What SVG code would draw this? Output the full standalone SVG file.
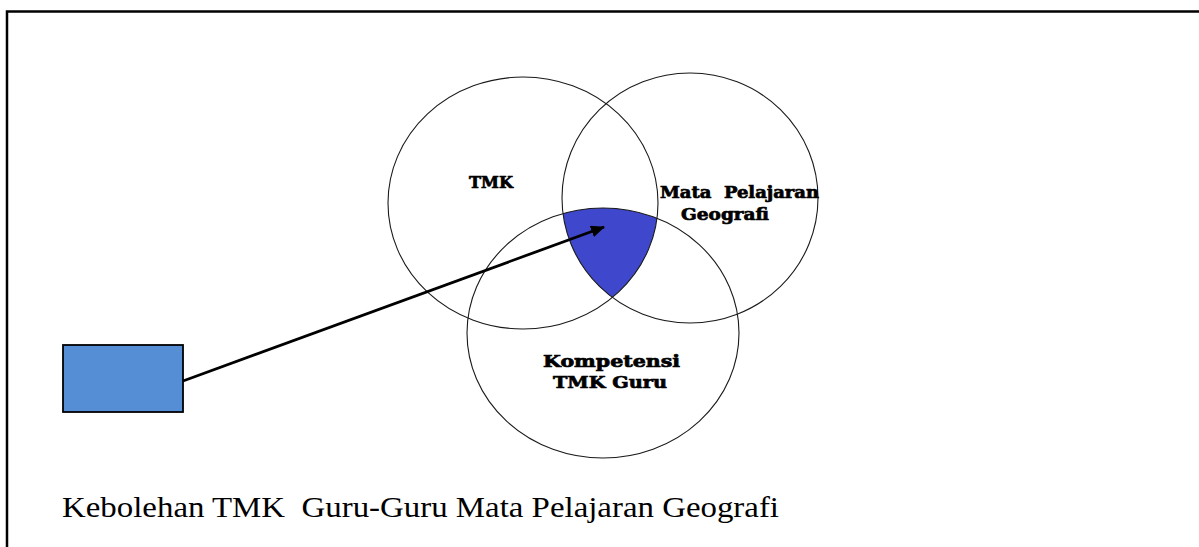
<svg xmlns="http://www.w3.org/2000/svg" width="1199" height="547" viewBox="0 0 1199 547">
<style>
.c{fill:none;stroke:#1a1a1a;stroke-width:1.1}
.lbl{font-family:"DejaVu Serif","Liberation Serif",serif;font-weight:bold;fill:#000;stroke:#000;stroke-width:0.7}
.cap{font-family:"Liberation Serif","Times New Roman",serif;font-size:29px;fill:#000}
</style>
<defs>
<clipPath id="clipT"><ellipse cx="523" cy="203" rx="135" ry="126"/></clipPath>
<clipPath id="clipG"><ellipse cx="690" cy="198" rx="128" ry="125"/></clipPath>
<marker id="ah" markerWidth="14" markerHeight="12" refX="13" refY="6" orient="auto" markerUnits="userSpaceOnUse" viewBox="0 0 14 12">
<path d="M0,0 L14,6 L0,12 z" fill="#000"/>
</marker>
</defs>
<rect width="1199" height="547" fill="#fff"/>
<path d="M7,547 V11.5 H1199" fill="none" stroke="#000" stroke-width="2.5"/>
<g id="overlap" clip-path="url(#clipG)"><g clip-path="url(#clipT)"><ellipse cx="603" cy="333" rx="136" ry="125" fill="#3F48CC"/></g></g>
<g id="tmk"><ellipse class="c" cx="523" cy="203" rx="135" ry="126"/><text class="lbl" x="469" y="188" font-size="16" textLength="44" lengthAdjust="spacingAndGlyphs">TMK</text></g>
<g id="geografi"><ellipse class="c" cx="690" cy="198" rx="128" ry="125"/><text class="lbl" x="660" y="198" font-size="17" textLength="159" lengthAdjust="spacingAndGlyphs" xml:space="preserve">Mata  Pelajaran</text><text class="lbl" x="681" y="220" font-size="17" textLength="88" lengthAdjust="spacingAndGlyphs">Geografi</text></g>
<g id="kompetensi"><ellipse class="c" cx="603" cy="333" rx="136" ry="125"/><text class="lbl" x="543" y="367" font-size="17" textLength="137" lengthAdjust="spacingAndGlyphs">Kompetensi</text><text class="lbl" x="553" y="388" font-size="17" textLength="114" lengthAdjust="spacingAndGlyphs">TMK Guru</text></g>
<g id="box"><rect x="63" y="345" width="120" height="67" fill="#558ED5" stroke="#000" stroke-width="1.8"/></g>
<g id="connectors"><line x1="183" y1="381" x2="604" y2="227" stroke="#000" stroke-width="2.8" marker-end="url(#ah)"/></g>
<text class="cap" x="62" y="517" textLength="717" lengthAdjust="spacingAndGlyphs" xml:space="preserve">Kebolehan TMK  Guru-Guru Mata Pelajaran Geografi</text>
</svg>
